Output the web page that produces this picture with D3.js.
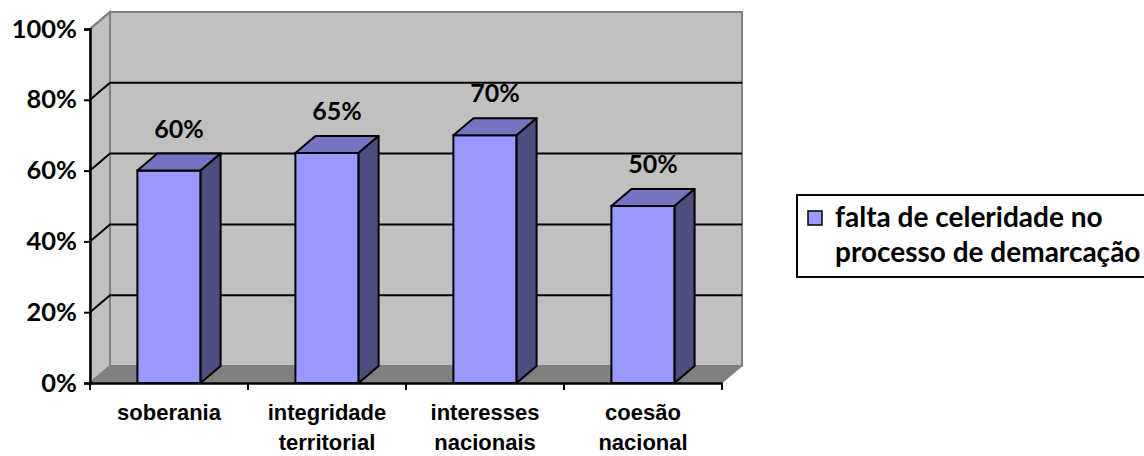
<!DOCTYPE html>
<html>
<head>
<meta charset="utf-8">
<script src="https://cdn.jsdelivr.net/npm/d3@7"></script>
<style>
  html, body { margin: 0; padding: 0; background: #ffffff; }
  svg { display: block; font-family: Lato, "Open Sans", sans-serif; font-weight: bold; }
</style>
</head>
<body>
<svg id="chart" width="1144" height="456"></svg>
<script>
// Categories (label lines) and series values
const categories = ["soberania", "integridade territorial", "interesses nacionais", "coesão nacional"];
const categoryLines = [["soberania"], ["integridade", "territorial"], ["interesses", "nacionais"], ["coesão", "nacional"]];
const seriesName = ["falta de celeridade no", "processo de demarcação"];
const values = [0.60, 0.65, 0.70, 0.50];
const yTicks = [0, 0.2, 0.4, 0.6, 0.8, 1.0];

const svg = d3.select("#chart");

// Plot frame: front plane and depth offset of the 3D box
const x0 = 90, x1 = 722, yBase = 383, yTop = 29;
const dx = 20, dy = 17;

const x = d3.scaleBand().domain(categories).range([x0, x1]).paddingInner(0.6).paddingOuter(0.3);
const y = d3.scaleLinear().domain([0, 1]).range([yBase, yTop]);
const fmt = d3.format(".0%");
const line = d3.line();

// Back wall
svg.append("rect")
  .attr("x", x0 + dx).attr("y", yTop - dy)
  .attr("width", x1 - x0).attr("height", yBase - yTop)
  .attr("fill", "#c0c0c0").attr("stroke", "#808080").attr("stroke-width", 2);

// Left side wall
svg.append("path")
  .attr("d", line([[x0, yTop], [x0 + dx, yTop - dy], [x0 + dx, yBase - dy], [x0, yBase]]) + "Z")
  .attr("fill", "#c0c0c0").attr("stroke", "#808080").attr("stroke-width", 2);

// Floor
svg.append("path")
  .attr("d", line([[x0, yBase], [x0 + dx, yBase - dy], [x1 + dx, yBase - dy], [x1, yBase]]) + "Z")
  .attr("fill", "#808080").attr("stroke", "#808080").attr("stroke-width", 1);

// Gridlines across the back wall and down the side wall
const grid = svg.append("g").attr("stroke", "#000").attr("stroke-width", 2).attr("fill", "none");
yTicks.filter(t => t > 0 && t < 1).forEach(t => {
  grid.append("path").attr("d", line([[x0, y(t)], [x0 + dx, y(t) - dy], [x1 + dx, y(t) - dy]]));
});
grid.append("path").attr("d", line([[x0, y(1)], [x0 + dx, y(1) - dy]])).attr("stroke", "#808080");

// Columns: front face, top and right side
const bars = svg.append("g").selectAll("g").data(values).join("g");
bars.each(function (v, i) {
  const g = d3.select(this);
  const bx0 = x(categories[i]), bx1 = bx0 + x.bandwidth();
  const yt = y(v);
  g.append("rect")
    .attr("x", bx0).attr("y", yt).attr("width", bx1 - bx0).attr("height", yBase - yt)
    .attr("fill", "#9999ff").attr("stroke", "#000").attr("stroke-width", 2);
  g.append("path")
    .attr("d", line([[bx0, yt], [bx0 + dx, yt - dy], [bx1 + dx, yt - dy], [bx1, yt]]) + "Z")
    .attr("fill", "#7474c2").attr("stroke", "#000").attr("stroke-width", 2).attr("stroke-linejoin", "round");
  g.append("path")
    .attr("d", line([[bx1, yt], [bx1 + dx, yt - dy], [bx1 + dx, yBase - dy], [bx1, yBase]]) + "Z")
    .attr("fill", "#4d4d80").attr("stroke", "#000").attr("stroke-width", 2).attr("stroke-linejoin", "round");
  g.append("text")
    .attr("x", (bx0 + bx1) / 2 + dx / 2).attr("y", yt - dy - 16)
    .attr("text-anchor", "middle").attr("font-size", 25).attr("fill", "#000")
    .text(fmt(v));
});

// Value axis
const yAxis = d3.axisLeft(y).tickValues(yTicks).tickFormat(fmt).tickSize(6).tickPadding(7);
const ya = svg.append("g").attr("transform", `translate(${x0},0)`).call(yAxis);
ya.select(".domain").attr("stroke", "#000").attr("stroke-width", 2.5);
ya.selectAll(".tick line").attr("stroke", "#000").attr("stroke-width", 2);
ya.selectAll(".tick text").attr("font-size", 25.5).attr("font-family", "Lato, sans-serif").attr("font-weight", "bold").attr("fill", "#000");

// Category axis
const xAxis = d3.axisBottom(x).tickSize(0).tickFormat("");
const xa = svg.append("g").attr("transform", `translate(0,${yBase})`).call(xAxis);
xa.select(".domain").attr("stroke", "#000").attr("stroke-width", 2.5);
const boundaries = categories.map(c => x(c) - x.step() * x.paddingInner() / 2);
boundaries[0] = x0;
boundaries.push(x1);
xa.selectAll(".sep").data(boundaries).join("line")
  .attr("x1", d => d).attr("x2", d => d).attr("y1", 0).attr("y2", 7)
  .attr("stroke", "#000").attr("stroke-width", 2);
xa.selectAll(".cat").data(categories).join("text")
  .attr("x", d => x(d) + x.bandwidth() / 2)
  .attr("text-anchor", "middle").attr("font-size", 22).attr("fill", "#000")
  .each(function (d, i) {
    d3.select(this).selectAll("tspan").data(categoryLines[i]).join("tspan")
      .attr("x", x(d) + x.bandwidth() / 2)
      .attr("y", (l, j) => 37 + j * 30)
      .text(l => l);
  });

// Legend
const legend = svg.append("g").attr("transform", "translate(797,195)");
legend.append("rect").attr("x", 0).attr("y", 0).attr("width", 380).attr("height", 82)
  .attr("fill", "#fff").attr("stroke", "#000").attr("stroke-width", 2);
legend.append("rect").attr("x", 11).attr("y", 16).attr("width", 14).attr("height", 14)
  .attr("fill", "#9999ff").attr("stroke", "#000").attr("stroke-width", 1.5);
legend.append("text").attr("font-size", 28).attr("fill", "#000")
  .selectAll("tspan").data(seriesName).join("tspan")
  .attr("x", 38).attr("y", (d, i) => 32 + i * 35)
  .text(d => d);
</script>
</body>
</html>
